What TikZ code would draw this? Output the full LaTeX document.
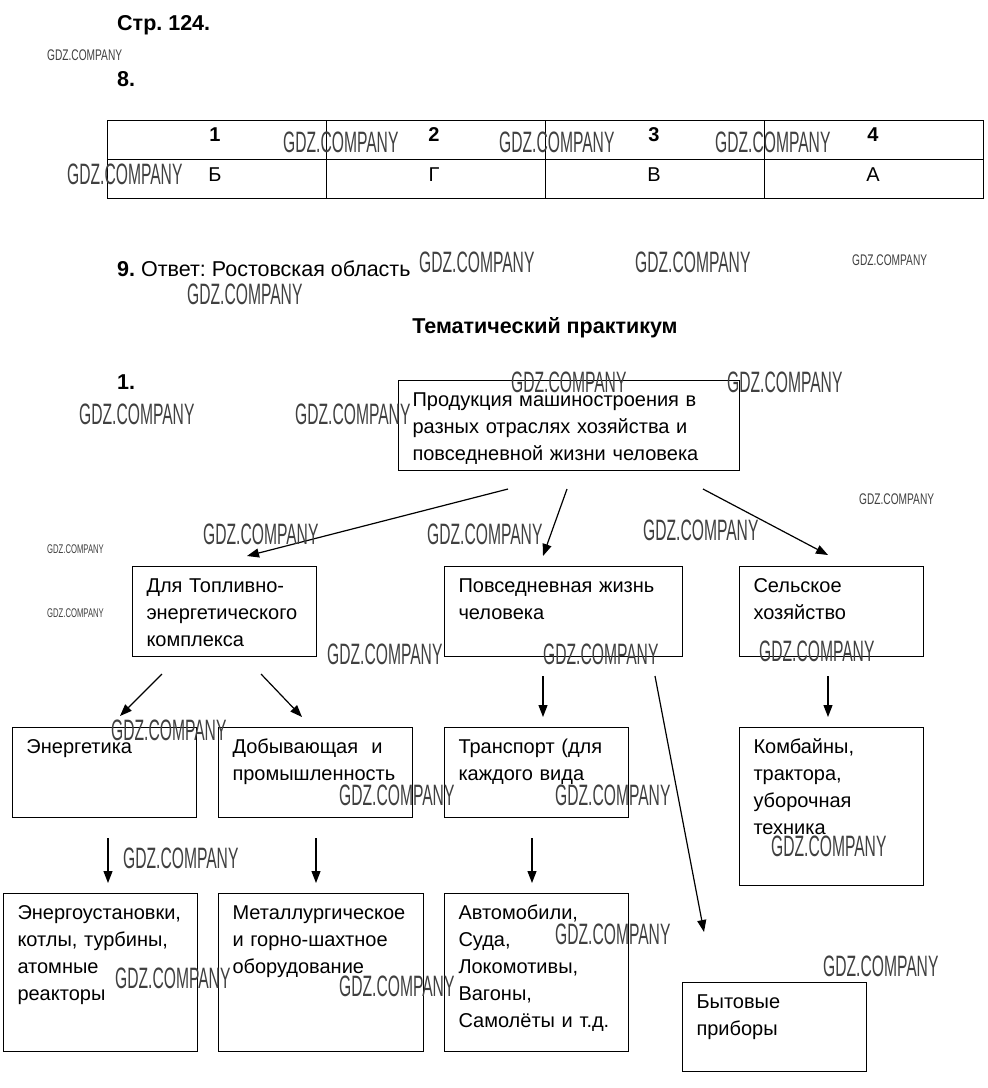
\documentclass[tikz,border=0pt]{standalone}
\usepackage{fontspec}
\setmainfont{Liberation Sans}
\usetikzlibrary{arrows.meta}
\newcommand\wmL{\scalebox{0.53}[1]{\fontsize{29.5}{30}\selectfont GDZ.COMPANY}}
\newcommand\wmS{\scalebox{0.66}[1]{\fontsize{15.4}{16}\selectfont GDZ.COMPANY}}
\newcommand\wmT{\scalebox{0.61}[1]{\fontsize{12.6}{13}\selectfont GDZ.COMPANY}}
\frenchspacing
\tikzset{
  hd/.style={inner sep=0, font=\fontsize{21.5}{27}\selectfont\bfseries, anchor=base west},
  cell/.style={inner sep=0, font=\fontsize{20}{27}\selectfont, anchor=base},
  bx/.style={draw, line width=1pt, anchor=north west, inner xsep=14pt, inner ysep=0, align=left,
    font=\fontsize{20}{27}\selectfont, text height=26pt},
  wm/.style={inner sep=0, anchor=west, text=black!75},
  arr/.style={line width=1.2pt, -{Triangle[length=12pt,width=9pt]}},
}
\begin{document}
\begin{tikzpicture}[x=1pt,y=-1pt]
\useasboundingbox (0,0) rectangle (988,1088);
\fill[white] (0,0) rectangle (988,1088);

% headings
\node[hd] (p124) at (117,30) {Стр. 124.};
\node[hd] (n8) at (117,86) {8.};

% table
\draw[line width=1pt] (107,120) rectangle (983,198);
\draw[line width=1pt] (107,159) -- (983,159);
\draw[line width=1pt] (326,120) -- (326,198) (545,120) -- (545,198) (764,120) -- (764,198);
\node[cell, font=\fontsize{20}{27}\selectfont\bfseries] (c1) at (215,141) {1};
\node[cell, font=\fontsize{20}{27}\selectfont\bfseries] (c2) at (434,141) {2};
\node[cell, font=\fontsize{20}{27}\selectfont\bfseries] (c3) at (654,141) {3};
\node[cell, font=\fontsize{20}{27}\selectfont\bfseries] (c4) at (873,141) {4};
\node[cell] (d1) at (215,181) {Б};
\node[cell] (d2) at (434,181) {Г};
\node[cell] (d3) at (654,181) {В};
\node[cell] (d4) at (873,181) {А};

% question 9
\node[hd] (q9) at (117,276) {9. \mdseries Ответ: Ростовская область};
\node[hd, anchor=base] (tp) at (545,333) {Тематический практикум};
\node[hd] (n1) at (117,389) {1.};

% boxes
\node[bx, text width=313pt, text depth=64pt] (top) at (398,380)
  {Продукция~машиностроения~в\\разных~отраслях~хозяйства~и\\повседневной~жизни~человека};
\node[bx, text width=156pt, text depth=64pt] (fuel) at (132,566)
  {Для~Топливно-\\энергетического\\комплекса};
\node[bx, text width=210pt, text depth=64pt] (daily) at (444,566)
  {Повседневная~жизнь\\человека};
\node[bx, text width=156pt, text depth=64pt] (agri) at (739,566)
  {Сельское\\хозяйство};
\node[bx, text width=156pt, text depth=64pt] (energ) at (12,727)
  {Энергетика};
\node[bx, text width=166pt, text depth=64pt] (mining) at (218,727)
  {Добывающая~~и\\промышленность};
\node[bx, text width=156pt, text depth=64pt] (transp) at (444,727)
  {Транспорт~(для\\каждого~вида};
\node[bx, text width=156pt, text depth=132pt] (comb) at (739,727)
  {Комбайны,\\трактора,\\уборочная\\техника};
\node[bx, text width=166pt, text depth=132pt] (inst) at (3,893)
  {Энергоустановки,\\котлы,~турбины,\\атомные\\реакторы};
\node[bx, text width=177pt, text depth=132pt] (metal) at (218,893)
  {Металлургическое\\и~горно-шахтное\\оборудование};
\node[bx, text width=156pt, text depth=132pt] (autos) at (444,893)
  {Автомобили,\\Суда,\\Локомотивы,\\Вагоны,\\Самолёты~и~т.д.};
\node[bx, text width=156pt, text depth=63pt] (house) at (682,982)
  {Бытовые\\приборы};

% arrow end points
\coordinate (a1s) at (508,489); \coordinate (a1e) at (247,556);
\coordinate (a2s) at (567,489); \coordinate (a2e) at (543,556);
\coordinate (a3s) at (703,489); \coordinate (a3e) at (828,555);
\coordinate (a4s) at (162,674); \coordinate (a4e) at (120,716);
\coordinate (a5s) at (261,674); \coordinate (a5e) at (302,717);
\coordinate (a6s) at (543,676); \coordinate (a6e) at (543,717);
\coordinate (a7s) at (655,676); \coordinate (a7e) at (704,932);
\coordinate (a8s) at (828,676); \coordinate (a8e) at (828,717);
\coordinate (a9s) at (108,838); \coordinate (a9e) at (108,883);
\coordinate (a10s) at (316,838); \coordinate (a10e) at (316,883);
\coordinate (a11s) at (532,838); \coordinate (a11e) at (532,883);
\foreach \i in {1,...,11} \draw[arr] (a\i s) -- (a\i e);

% watermarks
\node[wm] (w1) at (283,142) {\wmL};
\node[wm] (w2) at (499,142) {\wmL};
\node[wm] (w3) at (715,142) {\wmL};
\node[wm] (w4) at (67,174) {\wmL};
\node[wm] (w5) at (419,262) {\wmL};
\node[wm] (w6) at (635,262) {\wmL};
\node[wm] (w7) at (187,294) {\wmL};
\node[wm] (w8) at (511,382) {\wmL};
\node[wm] (w9) at (727,382) {\wmL};
\node[wm] (w10) at (79,414) {\wmL};
\node[wm] (w11) at (295,414) {\wmL};
\node[wm] (w12) at (203,534) {\wmL};
\node[wm] (w13) at (427,534) {\wmL};
\node[wm] (w14) at (643,530) {\wmL};
\node[wm] (w15) at (327,654) {\wmL};
\node[wm] (w16) at (543,654) {\wmL};
\node[wm] (w17) at (759,651) {\wmL};
\node[wm] (w18) at (111,730) {\wmL};
\node[wm] (w19) at (339,795) {\wmL};
\node[wm] (w20) at (555,795) {\wmL};
\node[wm] (w21) at (123,858) {\wmL};
\node[wm] (w22) at (771,846) {\wmL};
\node[wm] (w23) at (555,934) {\wmL};
\node[wm] (w24) at (823,966) {\wmL};
\node[wm] (w25) at (115,978) {\wmL};
\node[wm] (w26) at (339,986) {\wmL};
\node[wm] (s1) at (47,55) {\wmS};
\node[wm] (s2) at (852,260) {\wmS};
\node[wm] (s3) at (859,499) {\wmS};
\node[wm] (t1) at (47,549) {\wmT};
\node[wm] (t2) at (47,613) {\wmT};
\end{tikzpicture}
\end{document}
